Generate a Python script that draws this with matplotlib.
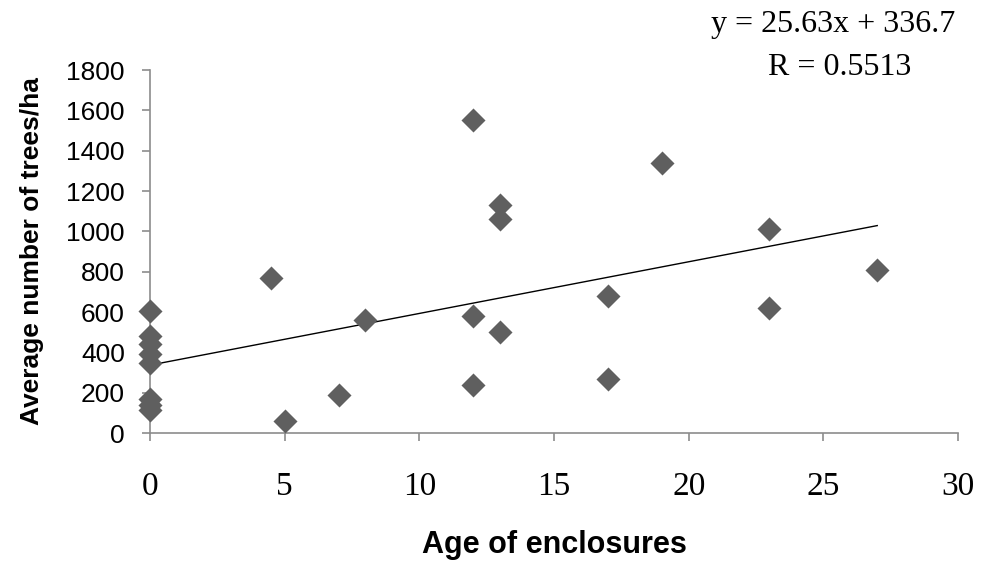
import numpy as np
import matplotlib.pyplot as plt

# Data
age = [0, 0, 0, 0, 0, 0, 0, 0, 4.5, 5, 7, 8, 12, 12, 12, 13, 13, 13, 17, 17, 19, 23, 23, 27]
trees = [605, 480, 440, 390, 345, 170, 140, 115, 770, 60, 190, 560,
         1550, 580, 240, 1130, 1060, 500, 680, 270, 1340, 1010, 620, 810]

slope = 25.63
intercept = 336.7

fig = plt.figure(figsize=(9.81, 5.65), dpi=100)
ax = fig.add_axes([0.1529, 0.2336, 0.8237, 0.6424])

ax.scatter(age, trees, marker="D", s=150, color="#5f5f5f", zorder=3,
           linewidths=0, clip_on=False)

xfit = np.array([0, max(age)])
ax.plot(xfit, intercept + slope * xfit, color="black", linewidth=1, zorder=2)

ax.set_xlim(0, 30)
ax.set_ylim(0, 1800)
ax.set_xticks(range(0, 31, 5))
ax.set_yticks(range(0, 1801, 200))

for side in ["top", "right"]:
    ax.spines[side].set_visible(False)
for side in ["left", "bottom"]:
    ax.spines[side].set_color("#8c8c8c")
    ax.spines[side].set_linewidth(1.2)

ax.tick_params(axis="both", direction="out", color="#8c8c8c", length=6, width=1.2)
ax.tick_params(axis="y", pad=12)
ax.tick_params(axis="x", pad=22)
for lbl in ax.get_xticklabels():
    lbl.set_fontfamily("Liberation Serif")
    lbl.set_fontsize(24)
for lbl in ax.get_yticklabels():
    lbl.set_fontfamily("Liberation Sans")
    lbl.set_fontsize(19)

ax.set_xlabel("Age of enclosures", fontfamily="Liberation Sans", fontweight="bold",
              fontsize=22, labelpad=20)
ax.set_ylabel("Average number of trees/ha", fontfamily="Liberation Sans",
              fontweight="bold", fontsize=19, labelpad=16)

fig.text(0.849, 0.956, "y = 25.63x + 336.7", fontfamily="Liberation Serif",
         fontsize=23, ha="center", va="center")
fig.text(0.856, 0.880, "R = 0.5513", fontfamily="Liberation Serif",
         fontsize=23, ha="center", va="center")

fig.savefig("out.png", dpi=100)
